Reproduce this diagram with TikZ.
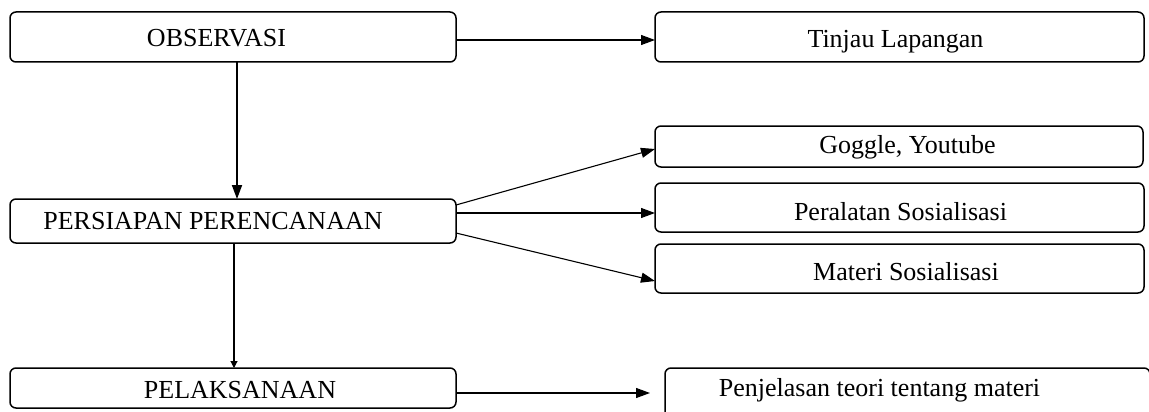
\documentclass[tikz,border=0pt]{standalone}
\usepackage{fontspec}
\setmainfont{Liberation Serif}
\usetikzlibrary{arrows.meta}
\begin{document}
\begin{tikzpicture}[x=1pt,y=-1pt,
  box/.style={draw, line width=1.5pt, rounded corners=6pt, inner sep=0pt, outer sep=0pt},
  lbl/.style={anchor=base, inner sep=0pt, font=\fontsize{26}{30}\selectfont},
  arr/.style={line width=1.1pt, -{Triangle[length=14pt,width=10pt]}},
  smallarr/.style={line width=1.1pt, -{Triangle[length=7pt,width=7pt]}}]
\useasboundingbox (0,0) rectangle (1149,412);
% boxes
\node[box, minimum width=446pt, minimum height=50pt] (obs) at (233,37) {};
\node[box, minimum width=489pt, minimum height=50pt] (tinjau) at (899.5,37) {};
\node[box, minimum width=488pt, minimum height=41pt] (goggle) at (899,146.5) {};
\node[box, minimum width=489pt, minimum height=49pt] (alat) at (899.5,207.5) {};
\node[box, minimum width=489pt, minimum height=49pt] (materi) at (899.5,268.5) {};
\node[box, minimum width=446pt, minimum height=44pt] (pers) at (233,221) {};
\node[box, minimum width=446pt, minimum height=40pt] (pelak) at (233,388) {};
\node[box, minimum width=485pt, minimum height=56pt] (penj) at (907.5,396) {};
% texts
\node[lbl] (tobs) at (216.5,47) {OBSERVASI};
\node[lbl] (ttinjau) at (895.5,47.5) {Tinjau Lapangan};
\node[lbl] (tgoggle) at (907.5,153) {Goggle, Youtube};
\node[lbl] (talat) at (900.5,220) {Peralatan Sosialisasi};
\node[lbl] (tmateri) at (906,280) {Materi Sosialisasi};
\node[lbl] (tpers) at (213,229) {PERSIAPAN PERENCANAAN};
\node[lbl] (tpelak) at (240,398) {PELAKSANAAN};
\node[lbl] (tpenj) at (879.5,396) {Penjelasan teori tentang materi};
% connectors
\draw[arr] ([yshift=-3pt]obs.east) -- ([yshift=-3pt]tinjau.west);
\draw[arr, line width=1.8pt] ([xshift=4pt]obs.south) -- ([xshift=4pt]pers.north);
\draw[arr] ([yshift=16pt]pers.east) -- ([yshift=-2.5pt]goggle.west);
\draw[arr] ([yshift=8pt]pers.east) -- ([yshift=-5.5pt]alat.west);
\draw[arr] ([yshift=-12pt]pers.east) -- ([yshift=-12.5pt]materi.west);
\draw[smallarr] ([xshift=1pt]pers.south) -- ([xshift=1pt]pelak.north);
\draw[arr, shorten >=15pt] ([yshift=-5pt]pelak.east) -- ([yshift=3pt]penj.west);
\end{tikzpicture}
\end{document}
